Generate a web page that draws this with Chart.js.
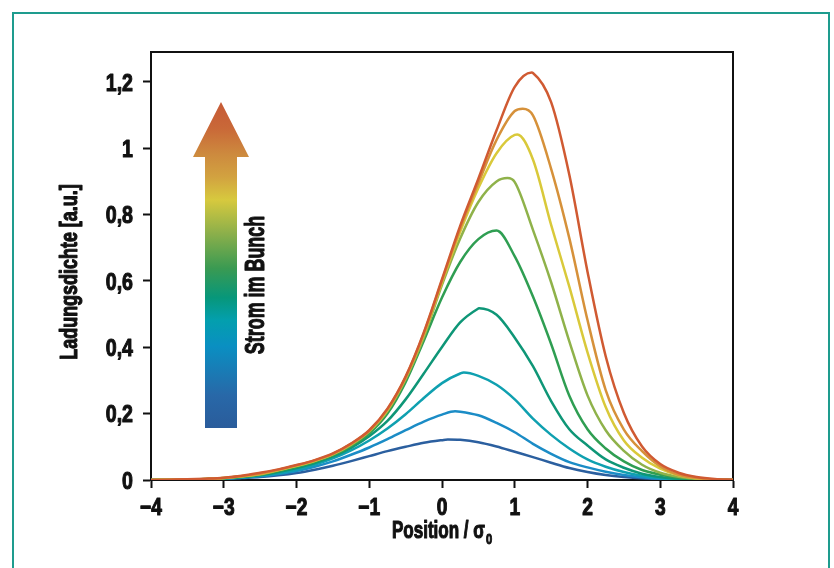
<!DOCTYPE html>
<html><head><meta charset="utf-8">
<script src="https://cdn.jsdelivr.net/npm/chart.js@4.4.1/dist/chart.umd.min.js"></script>
<style>html,body{margin:0;padding:0;background:#fff;}canvas{display:block;}</style>
</head><body>
<canvas id="c" width="834" height="568"></canvas>
<script>
// ---- data ----
const positions = [-4,-3.75,-3.5,-3.25,-3,-2.75,-2.5,-2.25,-2,-1.75,-1.5,-1.25,-1,-0.75,-0.5,-0.25,0,0.25,0.5,0.75,1,1.25,1.5,1.75,2,2.25,2.5,2.75,3,3.25,3.5,3.75,4];
const current1 = [0,0,0.001,0.002,0.003,0.006,0.009,0.014,0.021,0.031,0.043,0.057,0.072,0.087,0.100,0.112,0.120,0.121,0.114,0.101,0.085,0.069,0.052,0.036,0.024,0.015,0.009,0.005,0.003,0.001,0.001,0,0];
const current2 = [0,0,0.001,0.002,0.004,0.007,0.011,0.018,0.027,0.040,0.056,0.076,0.098,0.123,0.150,0.176,0.197,0.206,0.195,0.172,0.144,0.109,0.079,0.054,0.038,0.025,0.015,0.008,0.004,0.002,0.001,0,0];
const current3 = [0,0,0.001,0.002,0.004,0.008,0.013,0.020,0.031,0.046,0.065,0.089,0.119,0.155,0.198,0.247,0.292,0.321,0.314,0.287,0.243,0.185,0.136,0.095,0.062,0.040,0.024,0.013,0.006,0.002,0.001,0,0];
const current4 = [0,0,0.001,0.002,0.005,0.009,0.015,0.024,0.036,0.051,0.071,0.097,0.132,0.178,0.243,0.321,0.401,0.475,0.517,0.498,0.429,0.343,0.238,0.153,0.104,0.062,0.037,0.019,0.009,0.003,0.001,0,0];
const current5 = [0,0.001,0.001,0.003,0.005,0.010,0.016,0.027,0.040,0.055,0.074,0.102,0.140,0.200,0.295,0.420,0.550,0.657,0.726,0.752,0.674,0.553,0.410,0.254,0.153,0.095,0.056,0.030,0.016,0.007,0.002,0.001,0];
const current6 = [0,0.001,0.001,0.003,0.006,0.011,0.017,0.029,0.042,0.057,0.077,0.106,0.146,0.208,0.304,0.430,0.588,0.728,0.838,0.900,0.898,0.754,0.596,0.418,0.255,0.150,0.088,0.046,0.022,0.010,0.004,0.001,0];
const current7 = [0,0.001,0.001,0.003,0.006,0.011,0.018,0.030,0.043,0.058,0.078,0.108,0.148,0.211,0.308,0.438,0.596,0.748,0.880,0.985,1.040,0.966,0.769,0.583,0.385,0.220,0.119,0.067,0.034,0.014,0.005,0.001,0];
const current8 = [0,0.001,0.002,0.003,0.006,0.012,0.019,0.031,0.044,0.059,0.079,0.109,0.149,0.213,0.310,0.442,0.601,0.758,0.895,1.025,1.112,1.099,0.938,0.729,0.482,0.271,0.152,0.087,0.041,0.016,0.006,0.002,0];
const current9 = [0,0.001,0.002,0.004,0.007,0.013,0.022,0.032,0.045,0.060,0.080,0.110,0.150,0.215,0.312,0.445,0.605,0.766,0.908,1.054,1.185,1.227,1.139,0.920,0.628,0.373,0.202,0.101,0.048,0.022,0.009,0.003,0.001];
const peakPositions = [0.08,0.18,0.30,0.51,0.75,0.90,1.035,1.11,1.233];
const peakValues = [0.122,0.207,0.324,0.518,0.752,0.910,1.041,1.119,1.228];
const seriesList = [current1,current2,current3,current4,current5,current6,current7,current8,current9];
const seriesColors = ['#2b5f9f','#1b8cc6','#0fa0b0','#0e9677','#2f9e52','#8fb24a','#d9c93a','#d6913a','#d05a32'];
const xTickValues = [-4,-3,-2,-1,0,1,2,3,4];
const xTickLabels = ['\u22124','\u22123','\u22122','\u22121','0','1','2','3','4'];
const yTickValues = [0,0.2,0.4,0.6,0.8,1,1.2];
const yTickLabels = ['0','0,2','0,4','0,6','0,8','1','1,2'];
const yTitle = 'Ladungsdichte [a.u.]';
const xTitle = 'Position / \u03c3';
const xTitleSub = '0';
const arrowLabel = 'Strom im Bunch';

const FONT = "'Liberation Sans', Arial, sans-serif";
const INK = '#111';

function ctext(ctx, str, x, y, size, sx, align, baseline, rot) {
  ctx.save();
  ctx.translate(x, y);
  if (rot) ctx.rotate(rot);
  ctx.scale(sx, 1);
  ctx.font = 'bold ' + size + 'px ' + FONT;
  ctx.textAlign = align;
  ctx.textBaseline = baseline;
  ctx.fillStyle = INK;
  ctx.strokeStyle = INK;
  ctx.lineWidth = 1.1;
  ctx.lineJoin = 'round';
  ctx.fillText(str, 0, 0);
  ctx.strokeText(str, 0, 0);
  ctx.restore();
}

const deco = {
  id: 'deco',
  beforeDraw(chart) {
    const ctx = chart.ctx;
    ctx.save();
    ctx.fillStyle = '#fff';
    ctx.fillRect(0, 0, chart.width, chart.height);
    ctx.strokeStyle = '#1e9c8e';
    ctx.lineWidth = 2;
    ctx.strokeRect(13, 13, 816, 620);
    ctx.restore();
  },
  beforeDatasetsDraw(chart) {
    const ctx = chart.ctx, a = chart.chartArea;
    ctx.save();
    ctx.strokeStyle = INK;
    ctx.lineWidth = 2;
    ctx.strokeRect(a.left, a.top, a.right - a.left, a.bottom - a.top);
    const g = ctx.createLinearGradient(0, 428, 0, 102);
    g.addColorStop(0.00, '#2a5c9b');
    g.addColorStop(0.10, '#2868a8');
    g.addColorStop(0.25, '#0a8fc2');
    g.addColorStop(0.33, '#039fae');
    g.addColorStop(0.40, '#07977a');
    g.addColorStop(0.49, '#3a9a52');
    g.addColorStop(0.60, '#8eb04a');
    g.addColorStop(0.70, '#d7c93e');
    g.addColorStop(0.77, '#d2a240');
    g.addColorStop(0.84, '#cd8a3e');
    g.addColorStop(0.92, '#c96838');
    g.addColorStop(1.00, '#c65a36');
    ctx.fillStyle = g;
    ctx.beginPath();
    ctx.moveTo(205, 428);
    ctx.lineTo(205, 157);
    ctx.lineTo(193, 157);
    ctx.lineTo(221, 102);
    ctx.lineTo(249, 157);
    ctx.lineTo(237, 157);
    ctx.lineTo(237, 428);
    ctx.closePath();
    ctx.fill();
    ctx.restore();
  },
  afterDraw(chart) {
    const ctx = chart.ctx, a = chart.chartArea;
    const xs = chart.scales.x, ys = chart.scales.y;
    xTickValues.forEach((v, i) => {
      ctext(ctx, xTickLabels[i], xs.getPixelForValue(v), 515, 24, 0.8, 'center', 'alphabetic');
    });
    yTickValues.forEach((v, i) => {
      ctext(ctx, yTickLabels[i], 133, ys.getPixelForValue(v) + 8.8, 24.5, 0.8, 'right', 'alphabetic');
    });
    ctext(ctx, arrowLabel, 256, 285, 28, 0.64, 'center', 'middle', -Math.PI / 2);
    ctext(ctx, yTitle, 71, 272, 23, 0.78, 'center', 'middle', -Math.PI / 2);
    ctx.save();
    const sx = 0.74;
    ctx.font = 'bold 23px ' + FONT;
    const w1 = ctx.measureText(xTitle).width * sx;
    ctx.font = 'bold 15px ' + FONT;
    const w2 = ctx.measureText(xTitleSub).width * sx;
    ctx.restore();
    const cx = (a.left + a.right) / 2;
    const x0 = cx - (w1 + w2 + 1) / 2;
    ctext(ctx, xTitle, x0, 538, 23, sx, 'left', 'alphabetic');
    ctext(ctx, xTitleSub, x0 + w1 + 1, 544, 15, sx, 'left', 'alphabetic');
  }
};

const datasets = seriesList.map((arr, i) => {
  const pts = positions.map((x, k) => ({ x: x, y: arr[k] }))
    .filter(p => Math.abs(p.x - peakPositions[i]) > 1e-9);
  pts.push({ x: peakPositions[i], y: peakValues[i] });
  pts.sort((p, q) => p.x - q.x);
  return {
    label: 'I' + (i + 1),
    data: pts,
    borderColor: seriesColors[i],
    backgroundColor: seriesColors[i],
    borderWidth: 2.5,
    pointRadius: 0,
    cubicInterpolationMode: 'monotone',
    fill: false,
    order: seriesList.length - i
  };
});

new Chart(document.getElementById('c'), {
  type: 'line',
  data: { datasets },
  plugins: [deco],
  options: {
    responsive: false,
    animation: false,
    devicePixelRatio: 1,
    layout: { padding: { left: 0, top: 52, right: 101, bottom: 0 } },
    plugins: { legend: { display: false }, tooltip: { enabled: false } },
    scales: {
      x: {
        type: 'linear', min: -4, max: 4,
        afterFit(s) { s.height = 88; },
        afterBuildTicks(s) { s.ticks = xTickValues.map(v => ({ value: v })); },
        ticks: { display: false },
        grid: { drawOnChartArea: false, drawTicks: true, tickLength: 8, tickWidth: 2, tickColor: INK },
        border: { display: true, color: INK, width: 2 }
      },
      y: {
        type: 'linear', min: 0, max: 1.29,
        afterFit(s) { s.width = 151; },
        afterBuildTicks(s) { s.ticks = yTickValues.map(v => ({ value: v })); },
        ticks: { display: false },
        grid: { drawOnChartArea: false, drawTicks: true, tickLength: 8, tickWidth: 2, tickColor: INK },
        border: { display: true, color: INK, width: 2 }
      }
    }
  }
});
</script>
</body></html>
